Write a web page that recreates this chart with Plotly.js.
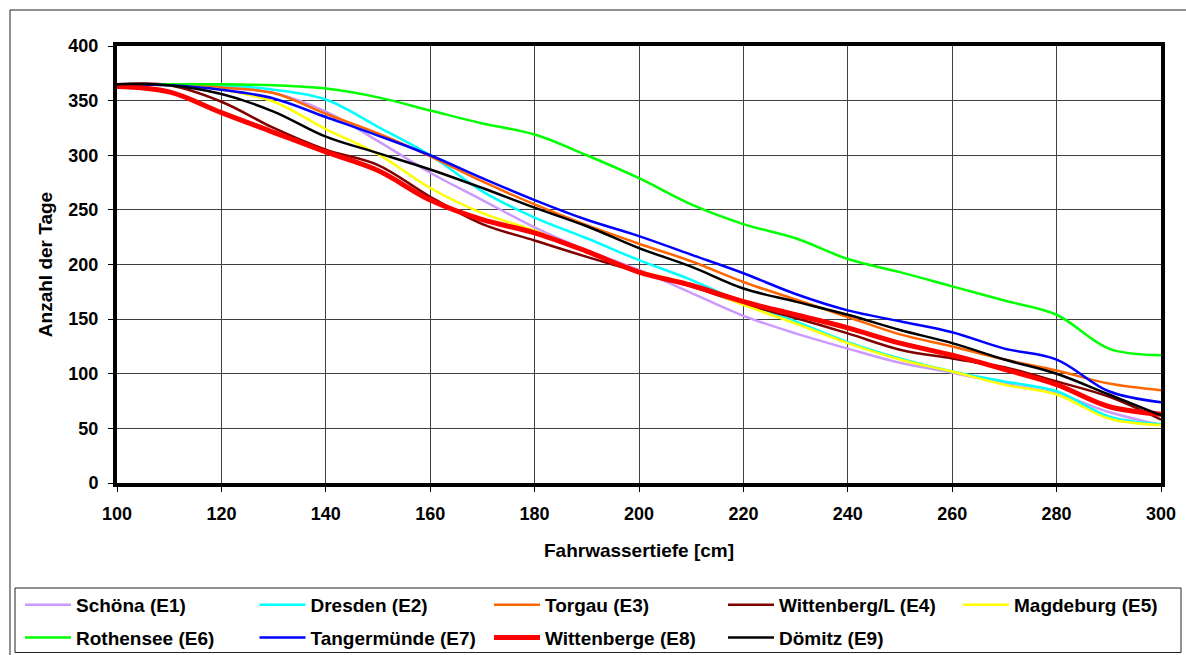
<!DOCTYPE html>
<html>
<head>
<meta charset="utf-8">
<script src="https://cdn.plot.ly/plotly-3.0.1.min.js"></script>
<style>html,body{margin:0;padding:0;background:#fff;}#chart{width:1186px;height:655px;}</style>
</head>
<body>
<div id="chart"></div>
<script>
// Fahrwassertiefe [cm]
const depth = [100,110,120,130,140,150,160,170,180,190,200,210,220,230,240,250,260,270,280,290,300];

// Anzahl der Tage per gauge
const schoena      = [365,365,362,357,340,313,284,259,234,213,195,174,153,137,123,110,101,91,82,65,53];
const dresden      = [365,365,364,360,351,326,300,267,243,224,204,186,165,148,129,114,102,93,84,61,54];
const torgau       = [365,365,362,357,338,320,299,276,255,236,219,203,184,168,152,136,125,113,103,91,85];
const wittenbergL  = [365,364,349,325,305,291,262,237,222,207,193,180,164,151,137,122,114,106,93,79,58];
const magdeburg    = [365,364,360,349,324,301,270,247,231,212,194,182,163,146,128,113,102,90,81,59,53];
const rothensee    = [365,365,365,364,361,353,341,329,319,300,279,255,237,224,205,193,180,167,154,123,117];
const tangermuende = [365,364,360,352,335,318,300,279,259,241,226,209,192,173,158,148,138,123,113,84,74];
const wittenberge  = [363,358,339,321,303,286,259,241,229,212,193,181,166,154,142,128,117,104,90,70,63];
const doemitz      = [365,364,356,340,317,302,287,270,252,235,215,198,178,166,154,140,128,113,100,81,62];

const seriesNames = ['Schöna (E1)','Dresden (E2)','Torgau (E3)','Wittenberg/L (E4)','Magdeburg (E5)',
                     'Rothensee (E6)','Tangermünde (E7)','Wittenberge (E8)','Dömitz (E9)'];
const seriesValues = [schoena, dresden, torgau, wittenbergL, magdeburg, rothensee, tangermuende, wittenberge, doemitz];
const seriesColors = ['#CC99FF','#00FFFF','#FF6600','#800000','#FFFF00','#00FF00','#0000FF','#FF0000','#000000'];
const seriesWidths = [2.5,2.5,2.5,2.5,2.5,2.5,2.5,5,2.5];
const seriesLegend = ['legend','legend2','legend3','legend4','legend5','legend','legend2','legend3','legend4'];

const traces = seriesNames.map((n, i) => ({
  type: 'scatter', mode: 'lines', name: n, x: depth, y: seriesValues[i],
  line: {color: seriesColors[i], width: seriesWidths[i], shape: 'spline', smoothing: 1},
  legend: seriesLegend[i], legendgroup: 'g' + i
}));

function px2x(p){ return (p - 117) / 1044; }
function px2y(p){ return (483 - p) / 437; }

const legBase = {orientation:'v', xanchor:'left', yanchor:'top', y: px2y(586), bgcolor:'rgba(0,0,0,0)',
  borderwidth:0, itemwidth:46, tracegroupgap:5, font:{size:19, family:'Liberation Sans, Arial, sans-serif', color:'#000', weight:'bold'}};

const layout = {
  width:1186, height:655,
  margin:{l:117, r:25, t:46, b:172, autoexpand:false},
  paper_bgcolor:'#fff', plot_bgcolor:'#fff',
  font:{family:'Liberation Sans, Arial, sans-serif', size:18, color:'#000', weight:'bold'},
  showlegend:true,
  xaxis:{range:[100,300], tick0:100, dtick:20, showgrid:true, gridcolor:'#404040', gridwidth:1,
    zeroline:false, showline:true, linecolor:'#000', linewidth:4, mirror:true,
    ticks:'outside', ticklen:5, tickcolor:'#000', tickwidth:1, ticklabelstandoff:6,
    title:{text:'Fahrwassertiefe [cm]', standoff:22, font:{size:19}}},
  yaxis:{range:[0,400], tick0:0, dtick:50, showgrid:true, gridcolor:'#404040', gridwidth:1,
    zeroline:false, showline:true, linecolor:'#000', linewidth:4, mirror:true,
    ticks:'outside', ticklen:5, tickcolor:'#000', tickwidth:1, ticklabelstandoff:6,
    title:{text:'Anzahl der Tage', standoff:12, font:{size:19}}},
  legend:  Object.assign({}, legBase, {x: px2x(20)}),
  legend2: Object.assign({}, legBase, {x: px2x(254.5)}),
  legend3: Object.assign({}, legBase, {x: px2x(489)}),
  legend4: Object.assign({}, legBase, {x: px2x(723)}),
  legend5: Object.assign({}, legBase, {x: px2x(958)}),
  shapes:[
    {type:'rect', xref:'paper', yref:'paper', x0:px2x(10), x1:px2x(1192), y0:px2y(662), y1:px2y(10),
     line:{color:'#222', width:1}, fillcolor:'rgba(0,0,0,0)'},
    {type:'rect', xref:'paper', yref:'paper', x0:px2x(15), x1:px2x(1181), y0:px2y(652.5), y1:px2y(588),
     line:{color:'#222', width:1}, fillcolor:'rgba(0,0,0,0)'}
  ]
};

Plotly.newPlot('chart', traces, layout, {staticPlot:true, displayModeBar:false});
</script>
</body>
</html>
